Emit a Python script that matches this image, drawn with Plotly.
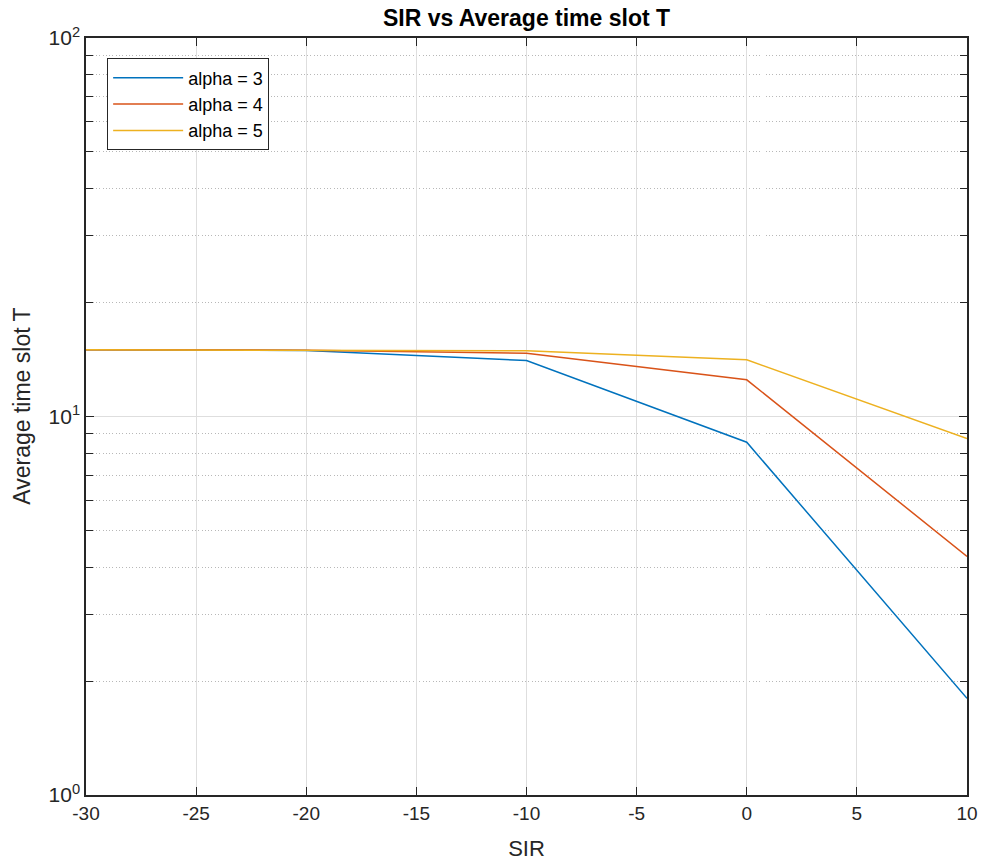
import plotly.graph_objects as go

sir = [-30, -20, -10, 0, 10]
t_alpha3 = [15.0, 14.95, 14.06, 8.55, 1.80]
t_alpha4 = [15.0, 14.97, 14.70, 12.50, 4.27]
t_alpha5 = [15.0, 14.98, 14.92, 14.12, 8.75]
series_names = ["alpha = 3", "alpha = 4", "alpha = 5"]
colors = ["#0072BD", "#D95319", "#EDB120"]

x_ticks = [-30, -25, -20, -15, -10, -5, 0, 5, 10]
x_tick_text = [str(v) for v in x_ticks]
y_major = [1, 10, 100]
y_major_text = ["10<sup>0</sup>", "10<sup>1</sup>", "10<sup>2</sup>"]
y_minor = [2, 3, 4, 5, 6, 7, 8, 9, 20, 30, 40, 50, 60, 70, 80, 90]

FONT = "Liberation Sans, Arial, sans-serif"
AX = "#262626"

fig = go.Figure()
for name, ys, c in zip(series_names, [t_alpha3, t_alpha4, t_alpha5], colors):
    fig.add_trace(go.Scatter(x=sir, y=ys, mode="lines", name=name,
                             line=dict(color=c, width=1.5)))

fig.update_layout(
    width=982, height=861,
    margin=dict(l=86, r=15, t=38, b=66),
    paper_bgcolor="white", plot_bgcolor="white",
    font=dict(family=FONT, color=AX, size=18),
    title=dict(text="<b>SIR vs Average time slot T</b>", x=0.5, xref="paper",
               y=1 - 18 / 861, yref="container", yanchor="middle",
               font=dict(size=23, color="black", family=FONT)),
    showlegend=True,
    legend=dict(x=0.024, y=0.973, xanchor="left", yanchor="top",
                bgcolor="white", bordercolor=AX, borderwidth=1,
                font=dict(size=18, color="black", family=FONT),
                itemwidth=70, tracegroupgap=0),
    annotations=[dict(text="Average time slot T", xref="paper", yref="paper",
                      x=-0.0726, y=0.513, xanchor="center", yanchor="middle",
                      textangle=-90, showarrow=False,
                      font=dict(size=23, color=AX, family=FONT))],
)

fig.update_xaxes(
    range=[-30, 10], tickmode="array", tickvals=x_ticks, ticktext=x_tick_text,
    ticks="inside", ticklen=8, automargin=False,
    tickcolor=AX, tickwidth=1, showline=True, linecolor=AX, linewidth=1.5,
    mirror="allticks", showgrid=True, gridcolor="#dedede", gridwidth=1,
    zeroline=False, tickfont=dict(size=19, color=AX),
    title=dict(text="SIR", font=dict(size=22, color=AX), standoff=19),
)

fig.update_yaxes(
    type="log", range=[0, 2], tickmode="array", tickvals=y_major,
    ticktext=y_major_text, ticks="inside", ticklen=8, tickcolor=AX,
    tickwidth=1, showline=True, linecolor=AX, linewidth=1.5, automargin=False,
    mirror="allticks", showgrid=True, gridcolor="#dedede", gridwidth=1,
    zeroline=False, tickfont=dict(size=21, color=AX),
    minor=dict(tickmode="array", tickvals=y_minor, ticks="inside", ticklen=7,
               tickcolor=AX, showgrid=True, gridcolor="#b8b8b8",
               griddash="1px,2.3px", gridwidth=1),
)

fig.write_html("out.html")
